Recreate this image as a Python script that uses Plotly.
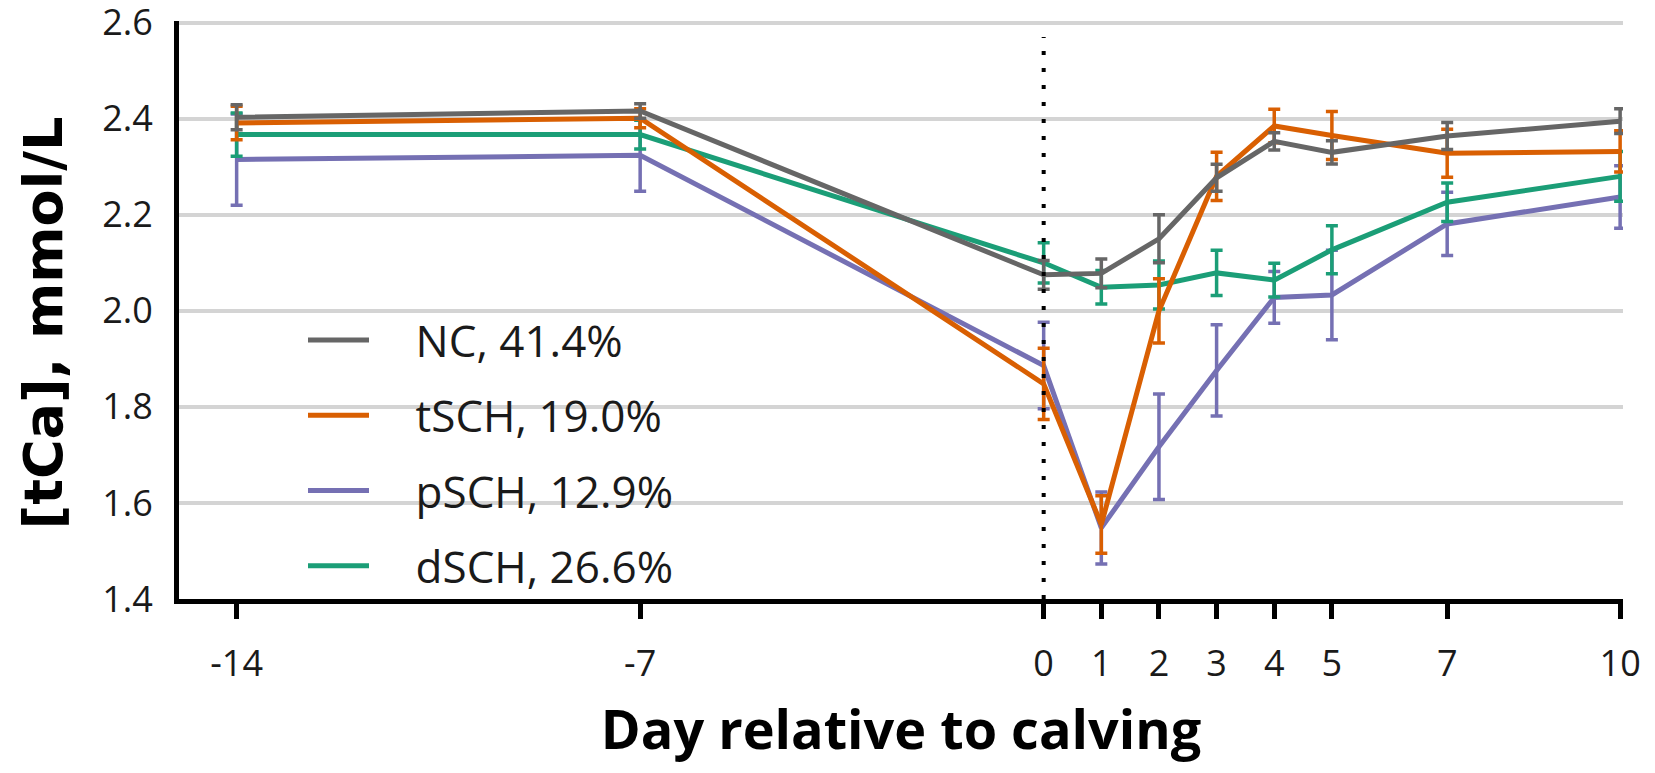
import plotly.graph_objects as go

days = [-14, -7, 0, 1, 2, 3, 4, 5, 7, 10]
tick_labels = ["-14", "-7", "0", "1", "2", "3", "4", "5", "7", "10"]

nc_mean = [2.403, 2.416, 2.075, 2.078, 2.150, 2.277, 2.353, 2.330, 2.364, 2.395]
nc_err = [0.026, 0.015, 0.030, 0.030, 0.050, 0.028, 0.018, 0.024, 0.028, 0.026]

tsch_mean = [2.391, 2.401, 1.848, 1.555, 2.000, 2.280, 2.385, 2.365, 2.328, 2.332]
tsch_err = [0.035, 0.020, 0.074, 0.060, 0.067, 0.050, 0.035, 0.050, 0.050, 0.043]

psch_mean = [2.315, 2.324, 1.886, 1.548, 1.717, 1.876, 2.028, 2.033, 2.181, 2.237]
psch_err = [0.095, 0.075, 0.090, 0.075, 0.110, 0.095, 0.054, 0.093, 0.066, 0.065]

dsch_mean = [2.367, 2.367, 2.100, 2.049, 2.054, 2.079, 2.064, 2.127, 2.226, 2.280]
dsch_err = [0.045, 0.030, 0.042, 0.035, 0.050, 0.047, 0.035, 0.050, 0.040, 0.052]

y_ticks = [1.4, 1.6, 1.8, 2.0, 2.2, 2.4, 2.6]
y_tick_labels = ["1.4", "1.6", "1.8", "2.0", "2.2", "2.4", "2.6"]

series = [
    # name, mean, err, color, legend rank
    ("pSCH, 12.9%", psch_mean, psch_err, "#7570b3", 3),
    ("dSCH, 26.6%", dsch_mean, dsch_err, "#1b9e77", 4),
    ("tSCH, 19.0%", tsch_mean, tsch_err, "#d95f02", 2),
    ("NC, 41.4%", nc_mean, nc_err, "#666666", 1),
]

# page has an 8px body margin: figure is 1639x757 placed at (8, 8)
W, H = 1639, 757
ML, MR, MT, MB = 171, 24, 13, 166
PW, PH = W - ML - MR, H - MT - MB

PAD = "\u00a0\u00a0\u00a0\u2009"
fig = go.Figure()
for name, mean, err, color, rank in series:
    fig.add_trace(go.Scatter(
        x=days, y=mean, name=PAD + name, mode="lines",
        line=dict(color=color, width=5),
        error_y=dict(type="data", array=err, visible=True,
                     color=color, thickness=3.5, width=6),
        legendrank=rank, legendgroup=name,
    ))

# vertical dotted reference line at calving
fig.add_shape(type="line", xref="x", yref="y", x0=0, x1=0, y0=1.4, y1=2.57,
              line=dict(color="black", width=4, dash="4px,13px"), layer="above")

# y-axis title
fig.add_annotation(text="<b>[tCa], mmol/L</b>", xref="paper", yref="paper",
                   x=(34.5 - ML) / PW, y=(591 - 315) / PH, xanchor="center", yanchor="middle",
                   textangle=-90, showarrow=False,
                   font=dict(size=54, family="DejaVu Sans", color="black"))

fig.update_layout(
    width=W, height=H,
    margin=dict(l=ML, r=MR, t=MT, b=MB),
    paper_bgcolor="white", plot_bgcolor="white",
    font=dict(family="Open Sans", color="#1a1a1a"),
    showlegend=True,
    legend=dict(
        x=(295 - ML) / PW, y=(591 - 297) / PH, xanchor="left", yanchor="top",
        bgcolor="rgba(0,0,0,0)", font=dict(size=44, family="Open Sans", color="#1a1a1a"),
        itemwidth=61, tracegroupgap=15, traceorder="grouped",
    ),
)

fig.update_xaxes(
    range=[-15, 10.05], tickmode="array", tickvals=days, ticktext=tick_labels,
    showgrid=False, zeroline=False, automargin=False,
    showline=True, linecolor="black", linewidth=5,
    ticks="outside", ticklen=15, tickwidth=5, tickcolor="black",
    tickfont=dict(size=36, family="Open Sans", color="#1a1a1a"),
    ticklabelstandoff=14, ticklabeloverflow="allow",
    title=dict(text="<b>Day relative to calving</b>", standoff=30,
               font=dict(size=54, family="Open Sans", color="black")),
)

fig.update_yaxes(
    range=[1.4, 2.6035], tickmode="array", tickvals=y_ticks, ticktext=y_tick_labels,
    showgrid=True, gridcolor="#d4d4d4", gridwidth=4, zeroline=False, automargin=False,
    showline=True, linecolor="black", linewidth=5,
    ticks="", ticklabelstandoff=14, ticklabeloverflow="allow",
    tickfont=dict(size=36, family="Open Sans", color="#1a1a1a"),
)

fig.write_html("out.html")
